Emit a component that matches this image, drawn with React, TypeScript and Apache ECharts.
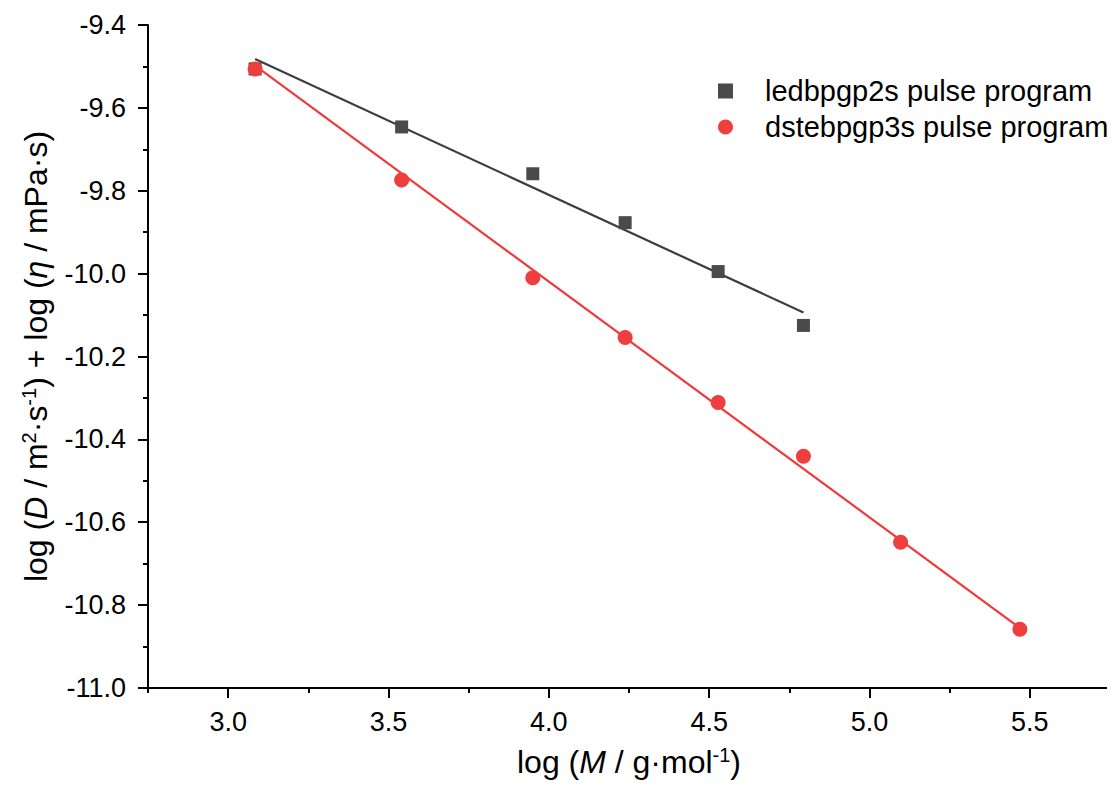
import React, { useEffect, useRef } from "react";
import * as echarts from "echarts";

const ledName = "ledbpgp2s pulse program";
const dsteName = "dstebpgp3s pulse program";

const ledX = [3.084, 3.541, 3.95, 4.238, 4.528, 4.794];
const ledY = [-9.506, -9.646, -9.759, -9.877, -9.995, -10.125];
const dsteX = [3.084, 3.541, 3.95, 4.238, 4.528, 4.794, 5.097, 5.469];
const dsteY = [-9.506, -9.774, -10.01, -10.154, -10.311, -10.441, -10.648, -10.858];

const ledFitX = [3.084, 4.794];
const ledFitY = [-9.482, -10.094];
const dsteFitX = [3.084, 5.469];
const dsteFitY = [-9.498, -10.855];

const xMajor = [3.0, 3.5, 4.0, 4.5, 5.0, 5.5];
const xMinor = [2.75, 3.25, 3.75, 4.25, 4.75, 5.25, 5.75];

const FONT = "'Liberation Sans', Arial, sans-serif";
const BLACK = "#4a4a4a";
const RED = "#ef3e3e";

const pairs = (xs: number[], ys: number[]) => xs.map((x, i) => [x, ys[i]]);

export default function App() {
  const ref = useRef<HTMLDivElement>(null);
  useEffect(() => {
    if (!ref.current) return;
    const chart = echarts.init(ref.current, undefined, { renderer: "svg" });
    const axisLine = { show: true, lineStyle: { color: "#000", width: 2 } };
    const nameRich = {
      i: { fontFamily: FONT, fontSize: 32, fontStyle: "italic", color: "#000" },
      sup: { fontFamily: FONT, fontSize: 20, color: "#000", verticalAlign: "top", padding: [0, 0, 14, 0] },
    };
    chart.setOption({
      animation: false,
      backgroundColor: "#fff",
      grid: { left: 148, right: 5, top: 25, bottom: 103, containLabel: false },
      legend: {
        orient: "vertical",
        left: 713,
        top: 71,
        itemWidth: 15,
        itemHeight: 15,
        itemGap: 6,
        data: [ledName, dsteName],
        textStyle: {
          fontFamily: FONT,
          fontSize: 29,
          color: "#000",
          lineHeight: 30,
          padding: [0, 0, 0, 27],
        },
      },
      xAxis: [
        {
          type: "value",
          min: 2.75,
          max: 5.75,
          position: "bottom",
          axisLine,
          splitLine: { show: false },
          axisTick: {
            show: true,
            length: 10,
            customValues: xMajor,
            lineStyle: { color: "#000", width: 2 },
          },
          axisLabel: {
            customValues: xMajor,
            formatter: (v: number) => v.toFixed(1),
            fontFamily: FONT,
            fontSize: 27,
            color: "#000",
            margin: 20,
          },
          name: "log ({i|M} / g·mol{sup|-1})",
          nameLocation: "middle",
          nameGap: 57,
          nameTextStyle: {
            fontFamily: FONT,
            fontSize: 32,
            color: "#000",
            rich: nameRich,
          },
        },
        {
          type: "value",
          min: 2.75,
          max: 5.75,
          position: "bottom",
          axisLine: { show: false },
          splitLine: { show: false },
          axisLabel: { show: false },
          axisTick: {
            show: true,
            length: 5,
            customValues: xMinor,
            lineStyle: { color: "#000", width: 2 },
          },
        },
      ],
      yAxis: {
        type: "value",
        min: -11.0,
        max: -9.4,
        interval: 0.2,
        axisLine,
        splitLine: { show: false },
        axisTick: { show: true, length: 10, lineStyle: { color: "#000", width: 2 } },
        minorTick: { show: true, splitNumber: 2, length: 5, lineStyle: { color: "#000", width: 2 } },
        axisLabel: {
          formatter: (v: number) => v.toFixed(1),
          fontFamily: FONT,
          fontSize: 27,
          color: "#000",
          margin: 22,
        },
        name: "log ({i|D} / m{sup|2}·s{sup|-1}) + log ({i|η} / mPa·s)",
        nameLocation: "middle",
        nameGap: 95,
        nameTextStyle: {
          fontFamily: FONT,
          fontSize: 32,
          color: "#000",
          rich: nameRich,
        },
      },
      series: [
        {
          type: "line",
          name: "ledFit",
          data: pairs(ledFitX, ledFitY),
          symbol: "none",
          silent: true,
          lineStyle: { color: "#3d3d3d", width: 2.2 },
          z: 1,
        },
        {
          type: "line",
          name: "dsteFit",
          data: pairs(dsteFitX, dsteFitY),
          symbol: "none",
          silent: true,
          lineStyle: { color: "#f03a3a", width: 2.2 },
          z: 1,
        },
        {
          type: "scatter",
          name: ledName,
          data: pairs(ledX, ledY),
          symbol: "rect",
          symbolSize: 13,
          itemStyle: { color: BLACK, opacity: 1 },
          z: 3,
        },
        {
          type: "scatter",
          name: dsteName,
          data: pairs(dsteX, dsteY),
          symbol: "circle",
          symbolSize: 15,
          itemStyle: { color: RED, opacity: 1 },
          z: 4,
        },
      ],
    });
    return () => chart.dispose();
  }, []);
  return <div ref={ref} style={{ width: 1115, height: 791, margin: -8 }} />;
}
